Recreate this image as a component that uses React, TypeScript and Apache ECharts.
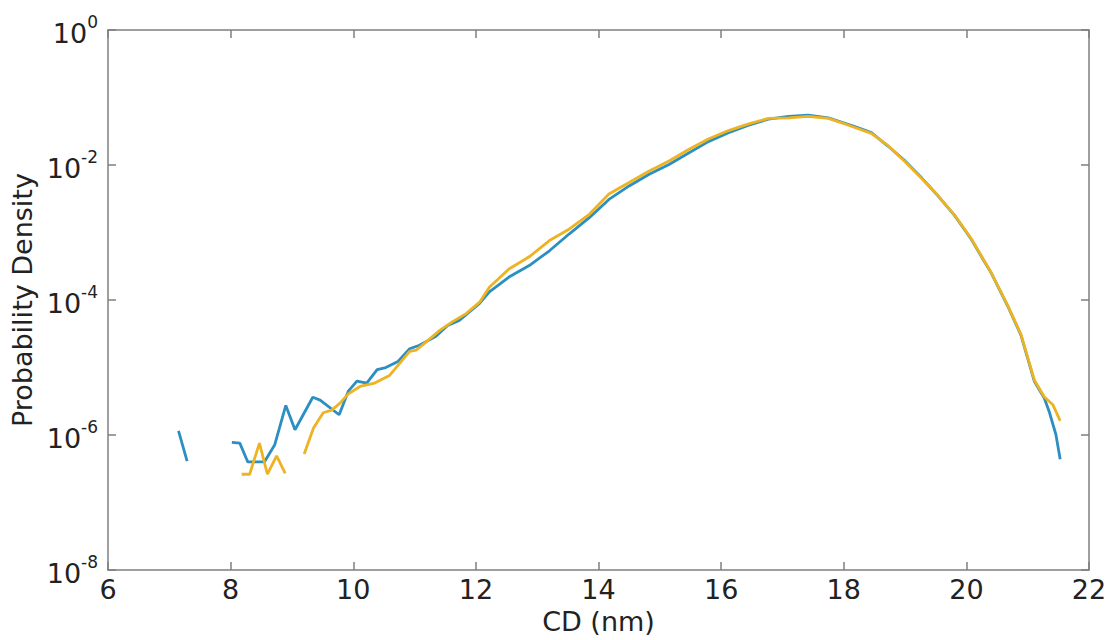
import React, { useEffect, useRef } from "react";
import * as echarts from "echarts";

const xTicks = [6, 8, 10, 12, 14, 16, 18, 20, 22];
const yTickExponents = [0, -2, -4, -6, -8];

// Blue series (CD in nm, probability density); null breaks the line
const blueX = [7.15, 7.29, 7.6, 8.02, 8.15, 8.28, 8.42, 8.55, 8.72, 8.9, 9.05, 9.34, 9.46, 9.77, 9.92, 10.06, 10.22, 10.39, 10.53, 10.73, 10.92, 11.08, 11.35, 11.54, 11.73, 12.06, 12.22, 12.54, 12.87, 13.2, 13.52, 13.85, 14.17, 14.5, 14.82, 15.15, 15.47, 15.8, 16.12, 16.45, 16.77, 17.1, 17.42, 17.75, 17.91, 18.18, 18.45, 18.72, 19.0, 19.27, 19.54, 19.81, 20.08, 20.3, 20.4, 20.67, 20.89, 21.11, 21.27, 21.35, 21.46, 21.53];
const blueY = [1.15e-6, 4.1e-7, null, 7.8e-7, 7.6e-7, 4.0e-7, 4.0e-7, 4.0e-7, 7.2e-7, 2.75e-6, 1.2e-6, 3.63e-6, 3.3e-6, 2.0e-6, 4.47e-6, 6.3e-6, 5.9e-6, 9.3e-6, 1.0e-5, 1.23e-5, 1.9e-5, 2.14e-5, 2.9e-5, 4.2e-5, 5.0e-5, 8.9e-5, 1.32e-4, 2.19e-4, 3.24e-4, 5.37e-4, 9.5e-4, 1.66e-3, 3.09e-3, 4.9e-3, 7.24e-3, 1.02e-2, 1.51e-2, 2.24e-2, 3.02e-2, 3.89e-2, 4.79e-2, 5.25e-2, 5.5e-2, 5.0e-2, 4.47e-2, 3.72e-2, 3.02e-2, 1.91e-2, 1.15e-2, 6.46e-3, 3.47e-3, 1.78e-3, 7.94e-4, 3.63e-4, 2.57e-4, 8.3e-5, 3.02e-5, 6.2e-6, 3.55e-6, 2.24e-6, 1.02e-6, 4.4e-7];

// Yellow series
const yellowX = [8.18, 8.31, 8.47, 8.6, 8.75, 8.89, 9.05, 9.2, 9.35, 9.51, 9.65, 9.78, 9.92, 10.11, 10.35, 10.59, 10.92, 11.03, 11.19, 11.41, 11.62, 11.84, 12.06, 12.22, 12.54, 12.87, 13.2, 13.52, 13.85, 14.17, 14.5, 14.82, 15.15, 15.47, 15.8, 16.12, 16.45, 16.77, 17.1, 17.42, 17.75, 17.91, 18.18, 18.45, 18.72, 19.0, 19.27, 19.54, 19.81, 20.08, 20.3, 20.4, 20.67, 20.89, 21.11, 21.27, 21.41, 21.53];
const yellowY = [2.63e-7, 2.63e-7, 7.6e-7, 2.63e-7, 4.9e-7, 2.7e-7, null, 5.25e-7, 1.26e-6, 2.14e-6, 2.34e-6, 2.95e-6, 4.07e-6, 5.25e-6, 5.9e-6, 7.6e-6, 1.74e-5, 1.82e-5, 2.4e-5, 3.55e-5, 4.79e-5, 6.3e-5, 9.3e-5, 1.55e-4, 2.88e-4, 4.37e-4, 7.6e-4, 1.12e-3, 1.86e-3, 3.72e-3, 5.5e-3, 8.1e-3, 1.15e-2, 1.7e-2, 2.45e-2, 3.24e-2, 4.07e-2, 4.9e-2, 5.0e-2, 5.25e-2, 4.9e-2, 4.4e-2, 3.6e-2, 2.95e-2, 1.95e-2, 1.12e-2, 6.3e-3, 3.5e-3, 1.8e-3, 8.1e-4, 3.7e-4, 2.6e-4, 8.5e-5, 3.1e-5, 6.5e-6, 3.7e-6, 2.82e-6, 1.62e-6];

const xName = "CD (nm)";
const yName = "Probability Density";

const BLUE = "#2b8fc1";
const YELLOW = "#eeb322";
const AXIS = "#7f7f7f";
const TEXT = "#222222";
const FONT = "DejaVu Sans, sans-serif";

function pairs(xs: number[], ys: (number | null)[]) {
  return xs.map((x, i) => [x, ys[i] === null ? "-" : ys[i]]);
}

export default function App() {
  const ref = useRef<HTMLDivElement>(null);
  useEffect(() => {
    if (!ref.current) return;
    const chart = echarts.init(ref.current, undefined, { renderer: "svg" });
    const xMin = xTicks[0];
    const xMax = xTicks[xTicks.length - 1];
    const yMin = Math.pow(10, Math.min(...yTickExponents));
    const yMax = Math.pow(10, Math.max(...yTickExponents));
    const tick = { show: true, inside: true, length: 8, lineStyle: { color: AXIS, width: 1.5 } };
    const line = { show: true, onZero: false, lineStyle: { color: AXIS, width: 1.5 } };
    chart.setOption({
      animation: false,
      backgroundColor: "#ffffff",
      grid: { left: 108, right: 23, top: 30, bottom: 68, containLabel: false },
      xAxis: [
        {
          type: "value",
          min: xMin,
          max: xMax,
          interval: 2,
          name: xName,
          nameLocation: "middle",
          nameGap: 37,
          nameTextStyle: { fontSize: 27, color: TEXT, fontFamily: FONT },
          axisLine: line,
          axisTick: tick,
          splitLine: { show: false },
          axisLabel: { fontSize: 27, color: TEXT, fontFamily: FONT, margin: 6 },
        },
        {
          type: "value",
          position: "top",
          min: xMin,
          max: xMax,
          interval: 2,
          axisLine: line,
          axisTick: tick,
          splitLine: { show: false },
          axisLabel: { show: false },
        },
      ],
      yAxis: [
        {
          type: "log",
          logBase: 100,
          min: yMin,
          max: yMax,
          name: yName,
          nameLocation: "middle",
          nameGap: 66,
          nameTextStyle: { fontSize: 27, color: TEXT, fontFamily: FONT },
          axisLine: line,
          axisTick: tick,
          splitLine: { show: false },
          axisLabel: {
            margin: 10,
            formatter: (v: number) => {
              const e = Math.round(Math.log10(v));
              return "{b|10}{s|" + e + "}";
            },
            rich: {
              b: { fontSize: 27, color: TEXT, fontFamily: FONT, lineHeight: 34, verticalAlign: "bottom" },
              s: { fontSize: 17, color: TEXT, fontFamily: FONT, lineHeight: 34, verticalAlign: "top" },
            },
          },
        },
        {
          type: "log",
          logBase: 100,
          position: "right",
          min: yMin,
          max: yMax,
          axisLine: line,
          axisTick: tick,
          splitLine: { show: false },
          axisLabel: { show: false },
        },
      ],
      series: [
        {
          type: "line",
          data: pairs(blueX, blueY),
          showSymbol: false,
          connectNulls: false,
          lineStyle: { color: BLUE, width: 2.8 },
          itemStyle: { color: BLUE },
          z: 2,
        },
        {
          type: "line",
          data: pairs(yellowX, yellowY),
          showSymbol: false,
          connectNulls: false,
          lineStyle: { color: YELLOW, width: 2.8 },
          itemStyle: { color: YELLOW },
          z: 3,
        },
      ],
    });
    return () => chart.dispose();
  }, []);
  return (
    <div
      ref={ref}
      style={{ position: "fixed", left: 0, top: 0, width: 1112, height: 640, background: "#fff" }}
    />
  );
}
